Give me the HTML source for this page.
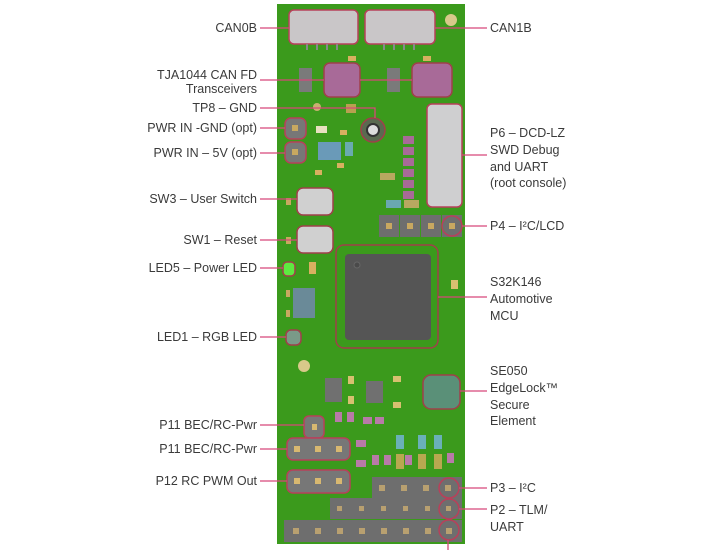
<!DOCTYPE html>
<html><head><style>
html,body{margin:0;padding:0;background:#fff;width:720px;height:550px;overflow:hidden}
svg text{font-family:"Liberation Sans",sans-serif;font-size:12.5px;fill:#3a3a3a}
</style></head><body>
<svg width="720" height="550" viewBox="0 0 720 550" xmlns="http://www.w3.org/2000/svg">
<!-- board -->
<rect x="277" y="4" width="188" height="540" fill="#3b9a1c"/>
<!-- CAN connectors -->
<rect x="289" y="10" width="69" height="34" rx="5" fill="#c9c6c8" stroke="#b8405a" stroke-width="1.5"/>
<rect x="365" y="10" width="70" height="34" rx="5" fill="#c9c6c8" stroke="#b8405a" stroke-width="1.5"/>
<g fill="#888"><rect x="306" y="44" width="2" height="6"/><rect x="316" y="44" width="2" height="6"/><rect x="326" y="44" width="2" height="6"/><rect x="336" y="44" width="2" height="6"/><rect x="383" y="44" width="2" height="6"/><rect x="393" y="44" width="2" height="6"/><rect x="403" y="44" width="2" height="6"/><rect x="413" y="44" width="2" height="6"/></g>
<circle cx="451" cy="20" r="6" fill="#d8c98a"/>
<!-- transceivers -->
<rect x="299" y="68" width="13" height="24" fill="#7a7a7a"/>
<rect x="387" y="68" width="13" height="24" fill="#7a7a7a"/>
<rect x="324" y="63" width="36" height="34" rx="6" fill="#a86a98" stroke="#a0404a" stroke-width="1.5"/>
<rect x="412" y="63" width="40" height="34" rx="6" fill="#a86a98" stroke="#a0404a" stroke-width="1.5"/>
<rect x="348" y="56" width="8" height="5" fill="#d8b060"/><rect x="423" y="56" width="8" height="5" fill="#d8b060"/>
<circle cx="317" cy="107" r="4" fill="#c8b070"/>
<rect x="346" y="104" width="10" height="9" fill="#b8a050"/>
<!-- TP8 -->
<circle cx="373" cy="130" r="12" fill="#5a6a50" stroke="#a0404a" stroke-width="1.5"/>
<circle cx="373" cy="130" r="6" fill="#ddd" stroke="#333" stroke-width="2"/>
<!-- PWR pads -->
<rect x="285" y="118" width="21" height="21" rx="6" fill="#777" stroke="#b8405a" stroke-width="1.5"/>
<rect x="285" y="142" width="21" height="21" rx="6" fill="#777" stroke="#b8405a" stroke-width="1.5"/>
<rect x="292" y="125" width="6" height="6" fill="#c8a860"/><rect x="292" y="149" width="6" height="6" fill="#c8a860"/>
<rect x="316" y="126" width="11" height="7" fill="#e8e0c0"/><rect x="340" y="130" width="7" height="5" fill="#d8b060"/>
<rect x="318" y="142" width="23" height="18" fill="#6a9ab8"/><rect x="345" y="142" width="8" height="14" fill="#6aaab0"/>
<rect x="315" y="170" width="7" height="5" fill="#d8b060"/><rect x="337" y="163" width="7" height="5" fill="#d8b060"/>
<!-- P6 -->
<rect x="427" y="104" width="35" height="103" rx="5" fill="#cfcfd0" stroke="#b8405a" stroke-width="1.5"/>
<g fill="#a86a98"><rect x="403" y="136" width="11" height="8"/><rect x="403" y="147" width="11" height="8"/><rect x="403" y="158" width="11" height="8"/><rect x="403" y="169" width="11" height="8"/><rect x="403" y="180" width="11" height="8"/><rect x="403" y="191" width="11" height="8"/></g>
<rect x="380" y="173" width="15" height="7" fill="#b8a860"/>
<rect x="386" y="200" width="15" height="8" fill="#6aa8b0"/><rect x="404" y="200" width="15" height="8" fill="#b8a860"/>
<!-- P4 -->
<g fill="#6e6e6e"><rect x="379" y="215" width="20" height="22"/><rect x="400" y="215" width="20" height="22"/><rect x="421" y="215" width="20" height="22"/><rect x="442" y="215" width="20" height="22"/></g>
<circle cx="452" cy="226" r="10" fill="none" stroke="#b8405a" stroke-width="1.5"/>
<g fill="#c8a860"><rect x="386" y="223" width="6" height="6"/><rect x="407" y="223" width="6" height="6"/><rect x="428" y="223" width="6" height="6"/><rect x="449" y="223" width="6" height="6"/></g>
<!-- switches -->
<rect x="297" y="188" width="36" height="27" rx="6" fill="#d0d0d0" stroke="#a0404a" stroke-width="1.5"/>
<rect x="297" y="226" width="36" height="27" rx="6" fill="#d0d0d0" stroke="#a0404a" stroke-width="1.5"/>
<rect x="286" y="198" width="5" height="7" fill="#c8a860"/><rect x="286" y="237" width="5" height="7" fill="#c8a860"/>
<!-- LED5 -->
<rect x="283" y="262" width="12" height="14" rx="4" fill="#5eea40" stroke="#a0404a" stroke-width="1.5"/>
<rect x="309" y="262" width="7" height="12" fill="#d8b060"/>
<!-- MCU -->
<rect x="336" y="245" width="102" height="103" rx="8" fill="none" stroke="#a0404a" stroke-width="1.5"/>
<rect x="345" y="254" width="86" height="86" rx="4" fill="#555"/>
<circle cx="357" cy="265" r="3" fill="#4a4a4a" stroke="#666"/>
<rect x="451" y="280" width="7" height="9" fill="#d8c070"/>
<!-- misc left -->
<rect x="293" y="288" width="22" height="30" fill="#6a8a98"/>
<rect x="286" y="290" width="4" height="7" fill="#c8a860"/><rect x="286" y="310" width="4" height="7" fill="#c8a860"/>
<rect x="286" y="330" width="15" height="15" rx="5" fill="#7a9a88" stroke="#a0404a" stroke-width="1.5"/>
<circle cx="304" cy="366" r="6" fill="#d8c98a"/>
<rect x="325" y="378" width="17" height="24" fill="#707070"/><rect x="366" y="381" width="17" height="22" fill="#707070"/>
<rect x="348" y="376" width="6" height="8" fill="#d8c070"/><rect x="348" y="396" width="6" height="8" fill="#d8c070"/>
<rect x="393" y="376" width="8" height="6" fill="#d8c070"/><rect x="393" y="402" width="8" height="6" fill="#d8c070"/>
<!-- SE050 -->
<rect x="423" y="375" width="37" height="34" rx="8" fill="#5a9078" stroke="#a0404a" stroke-width="1.5"/>
<!-- small parts -->
<g fill="#b87aa8"><rect x="335" y="412" width="7" height="10"/><rect x="347" y="412" width="7" height="10"/><rect x="363" y="417" width="9" height="7"/><rect x="375" y="417" width="9" height="7"/><rect x="356" y="440" width="10" height="7"/><rect x="372" y="455" width="7" height="10"/><rect x="384" y="455" width="7" height="10"/><rect x="405" y="455" width="7" height="10"/><rect x="447" y="453" width="7" height="10"/><rect x="356" y="460" width="10" height="7"/></g>
<g fill="#6ab0b8"><rect x="396" y="435" width="8" height="14"/><rect x="418" y="435" width="8" height="14"/><rect x="434" y="435" width="8" height="14"/></g>
<g fill="#b8a850"><rect x="396" y="454" width="8" height="15"/><rect x="418" y="454" width="8" height="15"/><rect x="434" y="454" width="8" height="15"/></g>
<!-- P11/P12 -->
<rect x="304" y="416" width="20" height="22" rx="5" fill="#777" stroke="#b8405a" stroke-width="1.5"/>
<rect x="312" y="424" width="5" height="6" fill="#d8b870"/>
<rect x="287" y="438" width="63" height="22" rx="6" fill="#777" stroke="#b8405a" stroke-width="1.5"/>
<rect x="287" y="470" width="63" height="23" rx="6" fill="#777" stroke="#b8405a" stroke-width="1.5"/>
<g fill="#d8b870"><rect x="294" y="446" width="6" height="6"/><rect x="315" y="446" width="6" height="6"/><rect x="336" y="446" width="6" height="6"/><rect x="294" y="478" width="6" height="6"/><rect x="315" y="478" width="6" height="6"/><rect x="336" y="478" width="6" height="6"/></g>
<!-- bottom headers -->
<rect x="372" y="477" width="90" height="21" fill="#6e6e6e"/>
<rect x="330" y="498" width="132" height="21" fill="#6e6e6e"/>
<rect x="284" y="520" width="178" height="22" fill="#6e6e6e"/>
<g fill="#b8a070">
<rect x="379" y="485" width="6" height="6"/><rect x="401" y="485" width="6" height="6"/><rect x="423" y="485" width="6" height="6"/><rect x="445" y="485" width="6" height="6"/>
<rect x="337" y="506" width="5" height="5"/><rect x="359" y="506" width="5" height="5"/><rect x="381" y="506" width="5" height="5"/><rect x="403" y="506" width="5" height="5"/><rect x="425" y="506" width="5" height="5"/><rect x="446" y="506" width="5" height="5"/>
<rect x="293" y="528" width="6" height="6"/><rect x="315" y="528" width="6" height="6"/><rect x="337" y="528" width="6" height="6"/><rect x="359" y="528" width="6" height="6"/><rect x="381" y="528" width="6" height="6"/><rect x="403" y="528" width="6" height="6"/><rect x="425" y="528" width="6" height="6"/><rect x="446" y="528" width="6" height="6"/></g>
<g fill="none" stroke="#b8405a" stroke-width="1.5"><circle cx="449" cy="488" r="10"/><circle cx="449" cy="509" r="10"/><circle cx="449" cy="530" r="10"/></g>
<!-- leader lines -->
<g stroke="#d6487a" stroke-width="1.3" fill="none">
<line x1="260" y1="28" x2="289" y2="28"/>
<line x1="435" y1="28" x2="487" y2="28"/>
<polyline points="260,80 324,80"/><line x1="360" y1="80" x2="412" y2="80"/>
<polyline points="260,108 375,108 375,118"/>
<line x1="260" y1="128" x2="285" y2="128"/>
<line x1="260" y1="153" x2="285" y2="153"/>
<line x1="260" y1="199" x2="297" y2="199"/>
<line x1="260" y1="240" x2="297" y2="240"/>
<line x1="260" y1="268" x2="283" y2="268"/>
<line x1="260" y1="337" x2="286" y2="337"/>
<line x1="260" y1="425" x2="304" y2="425"/>
<line x1="260" y1="449" x2="287" y2="449"/>
<line x1="260" y1="481" x2="287" y2="481"/>
<line x1="462" y1="155" x2="487" y2="155"/>
<line x1="462" y1="226" x2="487" y2="226"/>
<line x1="438" y1="297" x2="487" y2="297"/>
<line x1="460" y1="391" x2="487" y2="391"/>
<line x1="459" y1="488" x2="487" y2="488"/>
<line x1="459" y1="509" x2="487" y2="509"/>
<line x1="448" y1="540" x2="448" y2="550"/>
</g>
<!-- left labels -->
<g text-anchor="end">
<text x="257" y="32">CAN0B</text>
<text x="257" y="79">TJA1044 CAN FD</text>
<text x="257" y="93">Transceivers</text>
<text x="257" y="112">TP8 – GND</text>
<text x="257" y="132">PWR IN -GND (opt)</text>
<text x="257" y="157">PWR IN – 5V (opt)</text>
<text x="257" y="203">SW3 – User Switch</text>
<text x="257" y="244">SW1 – Reset</text>
<text x="257" y="272">LED5 – Power LED</text>
<text x="257" y="341">LED1 – RGB LED</text>
<text x="257" y="429">P11 BEC/RC-Pwr</text>
<text x="257" y="453">P11 BEC/RC-Pwr</text>
<text x="257" y="485">P12 RC PWM Out</text>
</g>
<!-- right labels -->
<text x="490" y="32">CAN1B</text>
<text x="490" y="137">P6 – DCD-LZ</text>
<text x="490" y="154">SWD Debug</text>
<text x="490" y="171">and UART</text>
<text x="490" y="187">(root console)</text>
<text x="490" y="230">P4 – I²C/LCD</text>
<text x="490" y="286">S32K146</text>
<text x="490" y="303">Automotive</text>
<text x="490" y="320">MCU</text>
<text x="490" y="375">SE050</text>
<text x="490" y="392">EdgeLock™</text>
<text x="490" y="409">Secure</text>
<text x="490" y="425">Element</text>
<text x="490" y="492">P3 – I²C</text>
<text x="490" y="514">P2 – TLM/</text>
<text x="490" y="531">UART</text>
</svg>
</body></html>
